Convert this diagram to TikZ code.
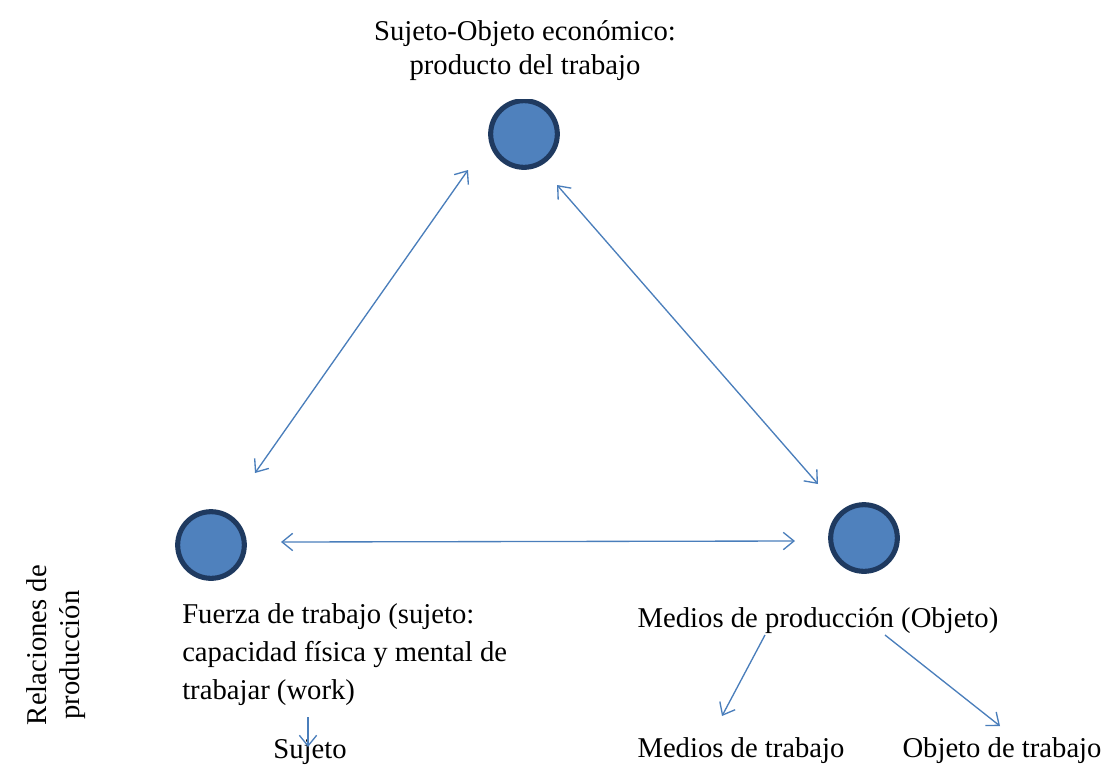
\documentclass[tikz,border=0pt]{standalone}
\usepackage{fontspec}
\setmainfont{Liberation Serif}
\usetikzlibrary{arrows.meta}
\definecolor{circfill}{HTML}{4F81BD}
\definecolor{circline}{HTML}{1F3A60}
\definecolor{arrcol}{HTML}{4A7EBB}
\tikzset{
  dot/.style={circle, draw=circline, fill=circfill, line width=3.8pt, minimum size=50pt, inner sep=0pt},
  conn/.style={draw=arrcol, line width=1pt, -{Straight Barb[length=8pt,width=13pt]}},
  dconn/.style={draw=arrcol, line width=1pt, {Straight Barb[length=8pt,width=13pt]}-{Straight Barb[length=8pt,width=13pt]}},
  lbl/.style={font=\fontsize{21.5}{26}\selectfont, inner sep=0pt, anchor=base},
  lbll/.style={lbl, anchor=base west},
}
\begin{document}
\begin{tikzpicture}[x=0.75pt,y=-0.75pt]
\useasboundingbox (0,0) rectangle (1107,765);
\begin{scope}
\clip (0,99) rectangle (1107,765);
\node[dot] (top) at (524,134) {};
\end{scope}
\node[dot] (left) at (211,545) {};
\node[dot] (right) at (864,538) {};

\node[lbl] (ttop1) at (525,40) {Sujeto-Objeto económico:};
\node[lbl] (ttop2) at (525,74) {producto del trabajo};
\node[lbll] (tleft1) at (182,623) {Fuerza de trabajo (sujeto:};
\node[lbll] (tleft2) at (182,661) {capacidad física y mental de};
\node[lbll] (tleft3) at (182,699) {trabajar (work)};
\node[lbl] (tright) at (818,627) {Medios de producción (Objeto)};
\node[lbl] (tmt) at (741,757) {Medios de trabajo};
\node[lbl] (tot) at (1002,757) {Objeto de trabajo};
\node[lbl] (tsuj) at (310,758) {Sujeto};
\node[lbl, rotate=90] (trel1) at (46,645) {Relaciones de};
\node[lbl, rotate=90] (trel2) at (79,655) {producción};

\coordinate (a1) at (468,170);
\coordinate (a2) at (255,473);
\coordinate (b1) at (557,185);
\coordinate (b2) at (818,484);
\coordinate (c1) at (281,542);
\coordinate (c2) at (795,541);
\coordinate (d1) at (765,635);
\coordinate (d2) at (722,716);
\coordinate (e1) at (885,635);
\coordinate (e2) at (1000,726);
\coordinate (f1) at (308,717);
\coordinate (f2) at (308,747);

\draw[dconn] (a1) -- (a2);
\draw[dconn] (b1) -- (b2);
\draw[dconn] (c1) -- (c2);
\draw[conn] (d1) -- (d2);
\draw[conn] (e1) -- (e2);
\draw[conn] (f1) -- (f2);
\end{tikzpicture}
\end{document}
